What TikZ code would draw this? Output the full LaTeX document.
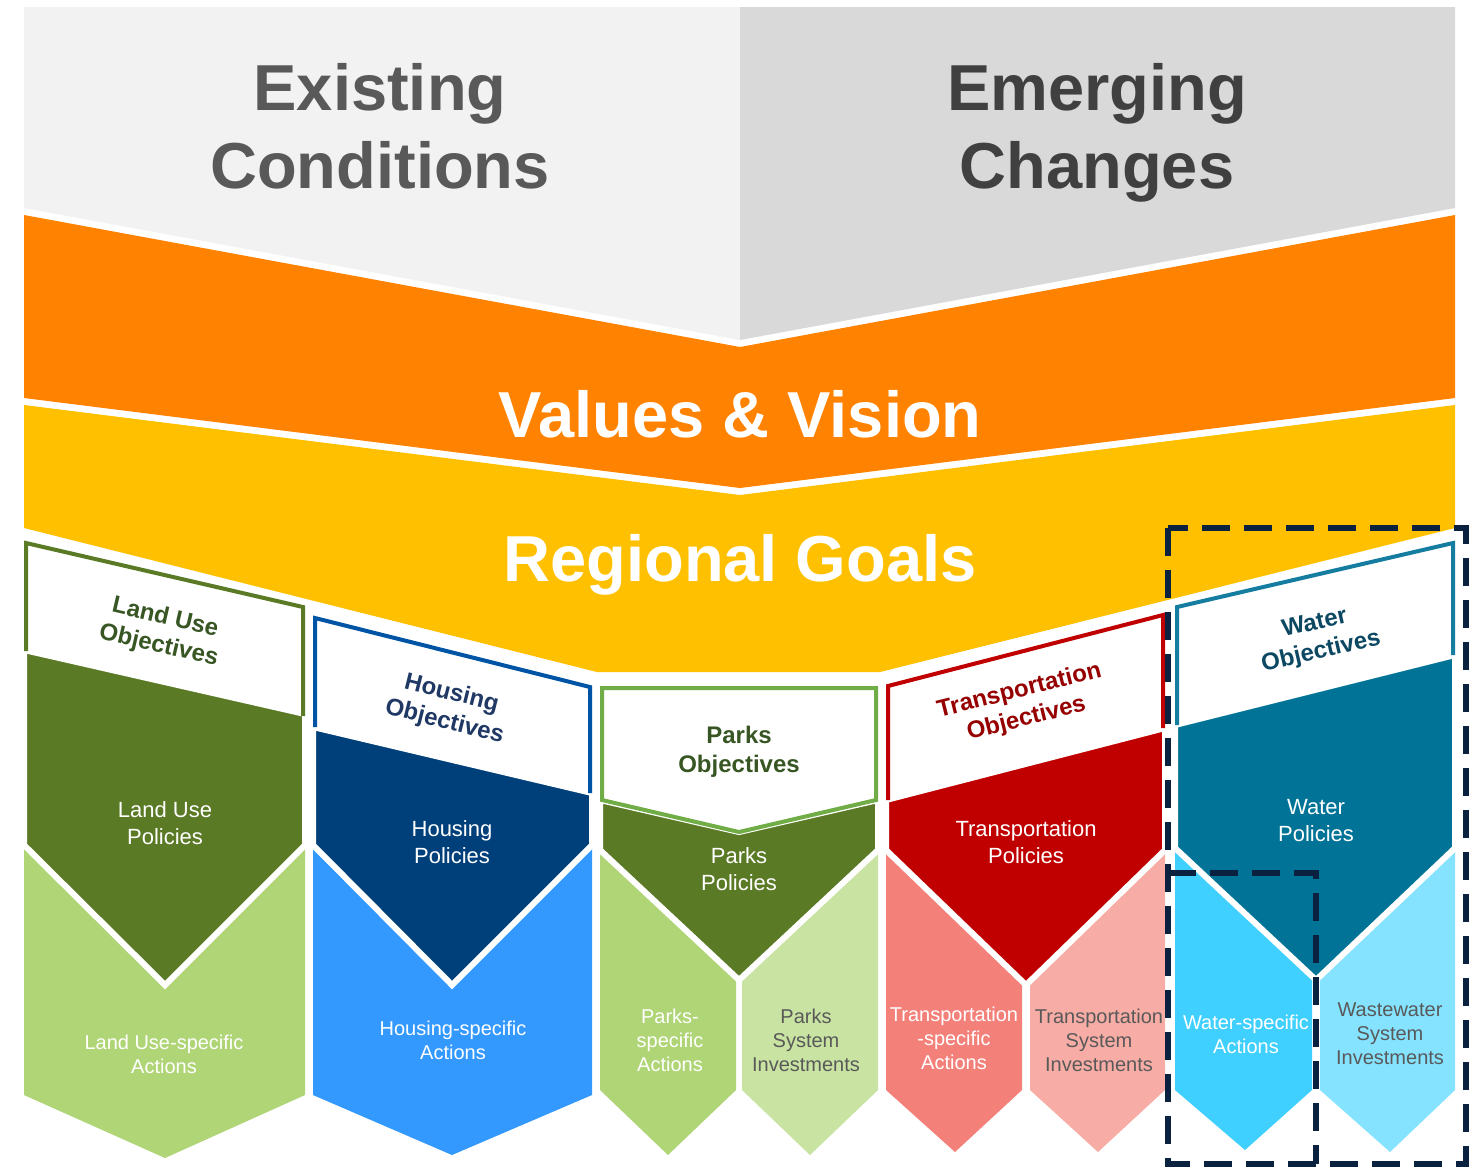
\documentclass[tikz,border=0pt]{standalone}
\usepackage{fontspec}
\setmainfont{Liberation Sans}
\definecolor{greyL}{RGB}{242,242,242}
\definecolor{greyR}{RGB}{217,217,217}
\definecolor{textL}{RGB}{89,89,89}
\definecolor{textR}{RGB}{64,64,64}
\definecolor{vision}{RGB}{255,130,0}
\definecolor{goals}{RGB}{255,192,0}
\definecolor{landD}{RGB}{91,122,37}
\definecolor{landL}{RGB}{176,213,118}
\definecolor{landT}{RGB}{55,86,35}
\definecolor{houseB}{RGB}{0,84,166}
\definecolor{houseD}{RGB}{0,64,122}
\definecolor{houseL}{RGB}{51,153,255}
\definecolor{houseT}{RGB}{31,56,100}
\definecolor{parkB}{RGB}{112,173,71}
\definecolor{parkL}{RGB}{201,227,162}
\definecolor{tranD}{RGB}{192,0,0}
\definecolor{tranL}{RGB}{244,128,122}
\definecolor{tranLL}{RGB}{247,173,166}
\definecolor{tranT}{RGB}{150,0,0}
\definecolor{watD}{RGB}{0,115,150}
\definecolor{watB}{RGB}{20,125,160}
\definecolor{watL}{RGB}{64,208,255}
\definecolor{watLL}{RGB}{133,227,255}
\definecolor{watT}{RGB}{12,72,98}
\definecolor{dashnavy}{RGB}{10,34,64}
\tikzset{
  head/.style={align=center, font=\fontsize{32.5}{39}\selectfont\bfseries},
  objtext/.style={align=center, font=\fontsize{12}{14.5}\selectfont\bfseries},
  poltext/.style={align=center, text=white, font=\fontsize{11}{13.5}\selectfont},
  acttext/.style={align=center, font=\fontsize{10}{12}\selectfont},
  policy/.style={draw=white, line width=3pt, line join=miter},
  objline/.style={line width=2pt, line join=miter},
  focus/.style={dashnavy, line width=3pt, dash pattern=on 14pt off 7pt}
}

\begin{document}
\begin{tikzpicture}[x=0.5pt, y=-0.5pt]
  \useasboundingbox[fill=white] (0,0) rectangle (1481,1169);
  \coordinate (TL) at (24,7);
  \coordinate (TM) at (740,7);
  \coordinate (TR) at (1455,7);

  \fill[greyL] (TL) -- (TM) -- (740,340) -- (24,208) -- cycle;
  \fill[greyR] (TM) -- (TR) -- (1455,208) -- (740,340) -- cycle;
  \fill[vision] (24,215) -- (740,347) -- (1455,215) -- (1455,398) -- (740,488) -- (24,398) -- cycle;
  \fill[goals] (24,405) -- (740,495) -- (1455,405) -- (1455,528) -- (880,672) -- (597,672) -- (24,528) -- cycle;

  \node[head, text=textL] (exist) at (380,126) {Existing\\Conditions};
  \node[head, text=textR] (emerge) at (1097,133) {Emerging\\Changes};
  \node[head, text=white, anchor=base] (values) at (740,437) {Values \& Vision};
  \node[head, text=white, anchor=base] (goals) at (740,581) {Regional Goals};

  \fill[landL] (24,840) -- (305,840) -- (305,1095) -- (165,1158) -- (24,1095) -- cycle;
  \filldraw[landD, policy] (24,650) -- (305,714) -- (305,845) -- (165,985) -- (24,845) -- cycle;
  \fill[white] (24,540) -- (305,605) -- (305,716) -- (24,651) -- cycle;
  \draw[landD, objline] (26,651) -- (26,543) -- (303,607) -- (303,716);

  \fill[houseL] (313,840) -- (592,840) -- (592,1095) -- (452,1155) -- (313,1095) -- cycle;
  \filldraw[houseD, policy] (313,727) -- (592,793) -- (592,845) -- (452,985) -- (313,845) -- cycle;
  \fill[white] (313,615) -- (592,685) -- (592,793) -- (313,727) -- cycle;
  \draw[houseB, objline] (315,727) -- (315,618) -- (590,687) -- (590,793);

  \fill[landL] (600,850) -- (736,850) -- (736,1090) -- (668,1155) -- (600,1090) -- cycle;
  \fill[parkL] (742,850) -- (878,850) -- (878,1090) -- (810,1155) -- (742,1090) -- cycle;
  \filldraw[landD, policy] (600,800) -- (739,832) -- (878,800) -- (878,850) -- (739,980) -- (600,850) -- cycle;
  \filldraw[fill=white, draw=parkB, objline] (602,688) -- (876,688) -- (876,800) -- (739,832) -- (602,800) -- cycle;

  \fill[tranL] (886,850) -- (1022,850) -- (1022,1090) -- (955,1152) -- (886,1090) -- cycle;
  \fill[tranLL] (1030,850) -- (1165,850) -- (1165,1090) -- (1098,1152) -- (1030,1090) -- cycle;
  \filldraw[tranD, policy] (886,800) -- (1165,728) -- (1165,850) -- (1026,985) -- (886,850) -- cycle;
  \fill[white] (886,684) -- (1165,612) -- (1165,728) -- (886,800) -- cycle;
  \draw[tranD, objline] (888,800) -- (888,686) -- (1163,615) -- (1163,728);

  \fill[watL] (1175,850) -- (1312,850) -- (1312,1090) -- (1245,1150) -- (1175,1090) -- cycle;
  \fill[watLL] (1320,850) -- (1455,850) -- (1455,1090) -- (1390,1152) -- (1320,1090) -- cycle;
  \filldraw[watD, policy] (1175,725) -- (1455,655) -- (1455,848) -- (1316,980) -- (1175,848) -- cycle;
  \fill[white] (1175,605) -- (1455,540) -- (1455,655) -- (1175,725) -- cycle;
  \draw[watB, objline] (1177,725) -- (1177,607) -- (1453,543) -- (1453,655);

  \node[objtext, text=landT, rotate=-13] (landobj) at (162,632) {Land Use\\Objectives};
  \node[objtext, text=houseT, rotate=-14] (houseobj) at (448,708) {Housing\\Objectives};
  \node[objtext, text=landT] (parkobj) at (739,752) {Parks\\Objectives};
  \node[objtext, text=tranT, rotate=14] (tranobj) at (1023,705) {Transportation\\Objectives};
  \node[objtext, text=watT, rotate=13] (watobj) at (1318,638) {Water\\Objectives};

  \node[poltext] (landpol) at (165,823) {Land Use\\Policies};
  \node[poltext] (housepol) at (452,842) {Housing\\Policies};
  \node[poltext] (parkpol) at (739,869) {Parks\\Policies};
  \node[poltext] (tranpol) at (1026,842) {Transportation\\Policies};
  \node[poltext] (watpol) at (1316,821) {Water\\Policies};

  \node[acttext, text=white] (landact) at (164,1054) {Land Use-specific\\Actions};
  \node[acttext, text=white] (houseact) at (453,1040) {Housing-specific\\Actions};
  \node[acttext, text=white] (parkact) at (670,1040) {Parks-\\specific\\Actions};
  \node[acttext, text=textL] (parkinv) at (806,1040) {Parks\\System\\Investments};
  \node[acttext, text=white] (tranact) at (954,1038) {Transportation\\-specific\\Actions};
  \node[acttext, text=textL] (traninv) at (1099,1040) {Transportation\\System\\Investments};
  \node[acttext, text=white] (watact) at (1246,1034) {Water-specific\\Actions};
  \node[acttext, text=textL] (wastinv) at (1390,1034) {Wastewater\\System\\Investments};

  \draw[focus] (1168,528) rectangle (1466,1164);
  \draw[focus] (1168,873) -- (1316,873) -- (1316,1164);
\end{tikzpicture}
\end{document}
